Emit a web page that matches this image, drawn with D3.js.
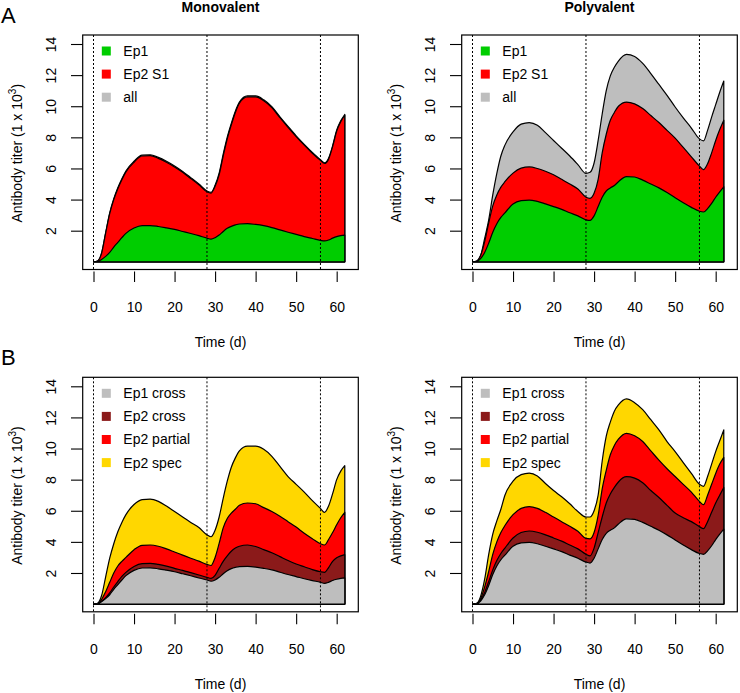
<!DOCTYPE html>
<html>
<head>
<meta charset="utf-8">
<script src="https://cdnjs.cloudflare.com/ajax/libs/d3/7.8.5/d3.min.js"></script>
<style>
  body { margin: 0; background: #fff; }
  svg { display: block; font-family: "Liberation Sans", Arial, sans-serif; }
</style>
</head>
<body>
<svg id="chart" width="740" height="693"></svg>
<script>
// ---------------- DATA ----------------
const days = [0,1,2,3,4,5,6,7,8,10,12,14,16,18,20,22,24,26,28,29,30,31,32,33,34,35,36,38,40,42,44,46,48,50,52,54,56,57,58,59,60,61,62];
const boostDays = [0, 28, 56];
const xTicks = [0,10,20,30,40,50,60];
const yTicks = [2,4,6,8,10,12,14];
const panelTitles = ["Monovalent", "Polyvalent"];
const rowLetters = ["A", "B"];
const legendA = ["Ep1", "Ep2 S1", "all"];
const legendB = ["Ep1 cross", "Ep2 cross", "Ep2 partial", "Ep2 spec"];
const colorsA = ["#00CD00", "#FF0000", "#BEBEBE"];
const colorsB = ["#BEBEBE", "#8B1A1A", "#FF0000", "#FFD700"];

// Panel A, monovalent: cumulative tops (Ep1, Ep1+Ep2 S1, all)
const monoEp1 = [0,0.02,0.15,0.35,0.6,0.95,1.25,1.55,1.83,2.17,2.33,2.33,2.27,2.18,2.08,1.95,1.82,1.68,1.52,1.46,1.55,1.72,1.95,2.15,2.28,2.37,2.43,2.45,2.40,2.32,2.2,2.05,1.9,1.76,1.62,1.5,1.38,1.34,1.4,1.52,1.62,1.68,1.72];
const monoEp2S1 = [0,0.05,0.55,1.85,3.1,4.0,4.7,5.28,5.78,6.4,6.8,6.82,6.65,6.4,6.1,5.75,5.35,4.95,4.5,4.42,4.85,5.6,6.8,7.9,8.8,9.6,10.2,10.6,10.6,10.35,9.91,9.26,8.64,8.05,7.5,6.98,6.52,6.32,6.6,7.4,8.4,9.0,9.42];
const monoAll = [0,0.05,0.57,1.87,3.14,4.05,4.76,5.34,5.84,6.46,6.86,6.88,6.71,6.46,6.16,5.81,5.41,5.0,4.55,4.47,4.92,5.7,6.92,8.02,8.9,9.68,10.26,10.66,10.66,10.41,9.97,9.32,8.7,8.1,7.55,7.03,6.56,6.36,6.66,7.46,8.46,9.06,9.47];

// Panel A, polyvalent
const polyEp1 = [0,0.02,0.2,0.6,1.2,1.9,2.45,2.85,3.15,3.72,3.93,3.97,3.88,3.72,3.55,3.37,3.15,2.95,2.7,2.66,2.95,3.55,4.15,4.55,4.75,4.9,5.15,5.48,5.45,5.25,5.0,4.75,4.45,4.12,3.8,3.5,3.25,3.2,3.42,3.75,4.15,4.5,4.82];
const polyEp2S1 = [0,0.03,0.4,1.3,2.5,3.6,4.3,4.8,5.15,5.7,6.02,6.1,6.0,5.82,5.6,5.3,5.0,4.68,4.15,4.08,4.4,5.3,7.0,8.2,9.1,9.6,10.0,10.27,10.15,9.85,9.4,8.95,8.45,7.95,7.35,6.75,6.15,5.92,6.3,7.0,7.8,8.5,9.1];
const polyAll = [0,0.05,0.4,1.5,2.7,4.3,5.68,6.8,7.5,8.35,8.85,8.95,8.78,8.3,7.8,7.3,6.8,6.25,5.68,5.75,6.35,7.8,9.5,11.0,11.95,12.5,12.9,13.33,13.2,12.75,12.1,11.4,10.7,9.95,9.25,8.6,7.9,7.77,8.45,9.3,10.1,10.9,11.62];

// Panel B, monovalent: cumulative tops (Ep1 cross, +Ep2 cross, +Ep2 partial, +Ep2 spec)
const monoEp1Cross = [0,0.02,0.15,0.35,0.6,0.95,1.25,1.55,1.83,2.17,2.32,2.33,2.27,2.18,2.08,1.95,1.82,1.68,1.55,1.47,1.55,1.72,1.95,2.15,2.28,2.36,2.41,2.42,2.38,2.3,2.2,2.05,1.9,1.77,1.63,1.51,1.4,1.33,1.4,1.52,1.6,1.65,1.68];
const monoEp2Cross = [0,0.02,0.18,0.42,0.72,1.1,1.45,1.78,2.04,2.42,2.6,2.62,2.55,2.44,2.3,2.17,2.02,1.87,1.72,1.65,1.85,2.3,2.75,3.1,3.4,3.6,3.72,3.8,3.7,3.5,3.3,3.05,2.8,2.58,2.4,2.22,2.08,2.04,2.35,2.75,2.98,3.1,3.18];
const monoEp2Partial = [0,0.03,0.3,0.8,1.4,2.0,2.45,2.75,3.0,3.5,3.78,3.8,3.72,3.55,3.35,3.15,2.95,2.76,2.55,2.48,3.0,3.9,4.9,5.5,5.85,6.1,6.35,6.5,6.45,6.2,5.95,5.65,5.3,4.95,4.55,4.2,3.88,3.8,4.15,4.6,5.1,5.55,5.9];
const monoEp2Spec = [0,0.05,0.55,1.75,2.95,3.88,4.65,5.25,5.75,6.4,6.72,6.75,6.6,6.3,5.95,5.6,5.25,4.92,4.45,4.33,4.75,5.6,6.8,7.9,8.8,9.4,9.85,10.15,10.15,9.95,9.5,8.85,8.2,7.7,7.2,6.65,6.15,5.9,6.3,7.1,8.0,8.55,8.9];

// Panel B, polyvalent
const polyEp1Cross = [0,0.02,0.2,0.6,1.2,1.9,2.45,2.85,3.15,3.72,3.93,3.97,3.88,3.72,3.55,3.37,3.15,2.95,2.7,2.64,2.95,3.55,4.15,4.55,4.75,4.9,5.15,5.48,5.45,5.25,5.0,4.75,4.45,4.12,3.8,3.5,3.25,3.2,3.42,3.75,4.15,4.5,4.82];
const polyEp2Cross = [0,0.02,0.25,0.75,1.45,2.2,2.8,3.25,3.6,4.25,4.6,4.7,4.62,4.45,4.25,4.05,3.8,3.55,3.2,3.1,3.6,4.6,5.6,6.5,7.08,7.5,7.85,8.19,8.1,7.8,7.3,6.85,6.35,5.85,5.55,5.3,4.98,4.85,5.3,5.9,6.5,7.0,7.5];
const polyEp2Partial = [0,0.03,0.35,1.1,2.1,3.2,4.0,4.6,5.05,5.75,6.15,6.26,6.15,5.9,5.6,5.3,5.0,4.68,4.22,4.19,4.6,5.7,7.4,8.6,9.6,10.2,10.6,10.98,10.82,10.45,9.85,9.25,8.7,8.2,7.7,7.2,6.6,6.39,7.0,7.7,8.4,9.0,9.43];
const polyEp2Spec = [0,0.05,0.5,1.6,3.2,4.5,5.35,6.1,7.0,7.9,8.32,8.42,8.24,7.75,7.3,6.9,6.45,5.95,5.6,5.6,6.0,7.0,9.2,10.8,11.7,12.4,12.8,13.19,12.95,12.5,11.85,11.2,10.45,9.8,9.1,8.4,7.7,7.57,8.2,9.0,9.8,10.5,11.2];

// ---------------- LAYOUT ----------------
const svg = d3.select("#chart");
const FONT = 14;
const colOffsets = [0, 379];
const rowOffsets = [0, 342.3];
// base panel geometry (top-left panel)
const box = { left: 82.7, right: 358.3, top: 35, bottom: 269.5 };
const xRange = [93.5, 93.5 + 62 * 4.053];
const yRange = [261.8, 44];

const panels = [
  { row: 0, col: 0, layers: [monoAll, monoEp2S1, monoEp1], colors: [colorsA[2], colorsA[1], colorsA[0]], legend: legendA, legendColors: colorsA },
  { row: 0, col: 1, layers: [polyAll, polyEp2S1, polyEp1], colors: [colorsA[2], colorsA[1], colorsA[0]], legend: legendA, legendColors: colorsA },
  { row: 1, col: 0, layers: [monoEp2Spec, monoEp2Partial, monoEp2Cross, monoEp1Cross], colors: [colorsB[3], colorsB[2], colorsB[1], colorsB[0]], legend: legendB, legendColors: colorsB },
  { row: 1, col: 1, layers: [polyEp2Spec, polyEp2Partial, polyEp2Cross, polyEp1Cross], colors: [colorsB[3], colorsB[2], colorsB[1], colorsB[0]], legend: legendB, legendColors: colorsB }
];

panels.forEach(p => {
  const dx = colOffsets[p.col], dy = rowOffsets[p.row];
  const g = svg.append("g").attr("transform", `translate(${dx},${dy})`);
  const x = d3.scaleLinear().domain([0, 62]).range(xRange);
  const y = d3.scaleLinear().domain([0, 14]).range(yRange);

  // stacked areas (drawn from largest cumulative to smallest)
  const area = d3.area()
    .x(d => x(d[0])).y0(y(0)).y1(d => y(d[1]))
    .curve(d3.curveMonotoneX);
  p.layers.forEach((vals, i) => {
    const pts = days.map((t, k) => [t, vals[k]]);
    g.append("path")
      .attr("d", area(pts) )
      .attr("fill", p.colors[i])
      .attr("stroke", "#000")
      .attr("stroke-width", 1.2)
      .attr("stroke-linejoin", "round");
  });

  // vertical dotted lines at boost days
  g.selectAll("line.boost").data(boostDays).enter().append("line")
    .attr("x1", d => x(d)).attr("x2", d => x(d))
    .attr("y1", box.top).attr("y2", box.bottom)
    .attr("stroke", "#000").attr("stroke-width", 1)
    .attr("stroke-dasharray", "2,2");

  // box
  g.append("rect")
    .attr("x", box.left).attr("y", box.top)
    .attr("width", box.right - box.left).attr("height", box.bottom - box.top)
    .attr("fill", "none").attr("stroke", "#000").attr("stroke-width", 1.2);

  // x axis (ticks hanging below box, no axis line)
  const xg = g.append("g").attr("transform", `translate(0,${box.bottom + 2})`)
    .call(d3.axisBottom(x).tickValues(xTicks).tickSize(10.5).tickPadding(20).tickSizeOuter(0));
  xg.select(".domain").remove();
  xg.selectAll(".tick line").attr("stroke", "#000").attr("stroke-width", 1.1);
  xg.selectAll(".tick text").attr("font-size", FONT).attr("fill", "#000")
    .attr("font-family", "Liberation Sans, Arial, sans-serif");

  // y axis (ticks left of box, rotated labels)
  const yg = g.append("g").attr("transform", `translate(${box.left},0)`)
    .call(d3.axisLeft(y).tickValues(yTicks).tickSize(11.7).tickSizeOuter(0).tickFormat(d3.format("d")));
  yg.select(".domain").remove();
  yg.selectAll(".tick line").attr("stroke", "#000").attr("stroke-width", 1.1);
  yg.selectAll(".tick text")
    .attr("font-size", FONT).attr("fill", "#000")
    .attr("font-family", "Liberation Sans, Arial, sans-serif")
    .attr("x", null)
    .attr("text-anchor", "middle")
    .attr("transform", "translate(-32,0) rotate(-90)")
    .attr("dy", "0.35em");

  // x title
  g.append("text")
    .attr("x", (box.left + box.right) / 2).attr("y", 347)
    .attr("text-anchor", "middle").attr("font-size", FONT)
    .text("Time (d)");

  // y title
  const yt = g.append("text")
    .attr("transform", `translate(22,${(box.top + box.bottom) / 2 + 1}) rotate(-90)`)
    .attr("text-anchor", "middle").attr("font-size", FONT);
  yt.append("tspan").text("Antibody titer (1 x 10");
  yt.append("tspan").attr("font-size", 10).attr("dy", -6).text("3");
  yt.append("tspan").attr("dy", 6).text(")");

  // legend
  const lg = g.append("g");
  p.legend.forEach((name, i) => {
    const cy = 51 + i * 23.1;
    lg.append("rect").attr("x", 101.8).attr("y", cy - 4.5).attr("width", 9).attr("height", 9)
      .attr("fill", p.legendColors[i]);
    lg.append("text").attr("x", 123.3).attr("y", cy + 5).attr("font-size", FONT).text(name);
  });

  // panel title (top row only)
  if (p.row === 0) {
    g.append("text")
      .attr("x", (box.left + box.right) / 2).attr("y", 12)
      .attr("text-anchor", "middle").attr("font-size", FONT).attr("font-weight", "bold")
      .text(panelTitles[p.col]);
  }
  // row letter
  if (p.col === 0) {
    g.append("text")
      .attr("x", 1).attr("y", 23)
      .attr("font-size", 22)
      .text(rowLetters[p.row]);
  }
});
</script>
</body>
</html>
